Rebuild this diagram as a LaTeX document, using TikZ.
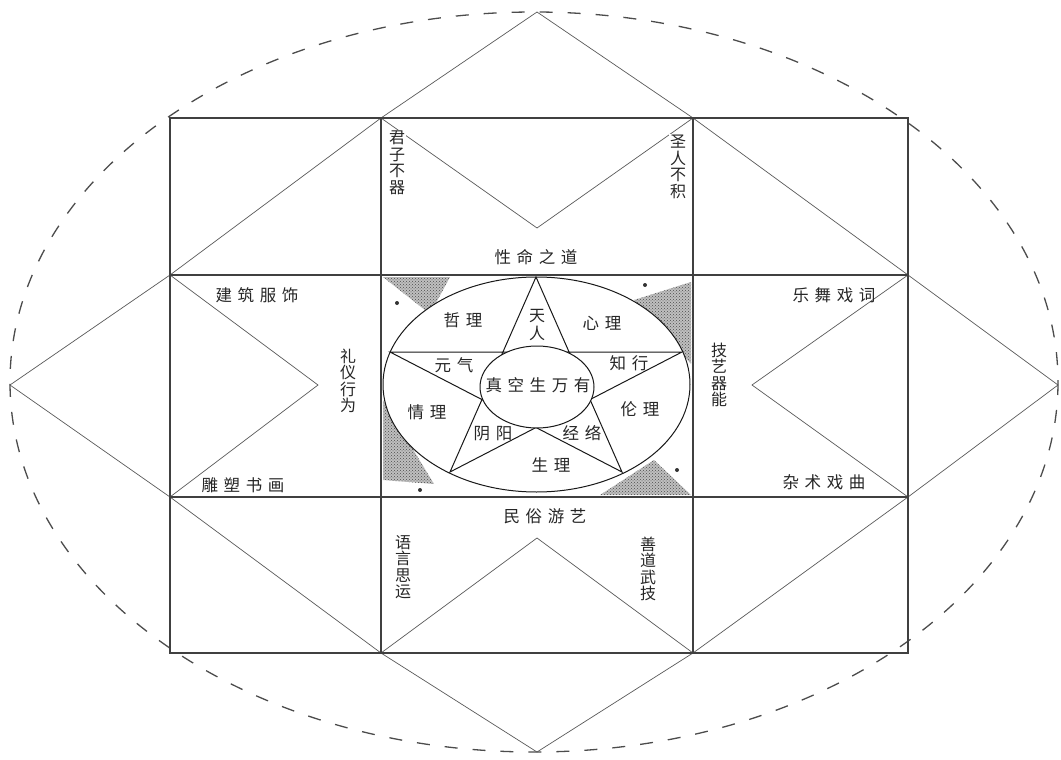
\documentclass[tikz,border=0pt]{standalone}
\usepackage{fontspec}
\newfontfamily\cjk[LetterSpace=34]{Noto Sans CJK SC}
\newfontfamily\cjkv{Noto Sans CJK SC}
\usetikzlibrary{patterns}
\begin{document}
\begin{tikzpicture}[x=1pt,y=-1pt,
  lbl/.style={font=\cjk\fontsize{16.5}{16.5}\selectfont, inner sep=0pt, text=black!85},
  vlbl/.style={font=\cjkv\fontsize{16}{16.5}\selectfont, align=center, inner sep=1pt, fill=white, text=black!85},
  grid/.style={line width=1.6pt, draw=black!75},
  thin/.style={line width=0.7pt, draw=black!65},
  dashring/.style={line width=1.3pt, draw=black!70, dash pattern=on 13pt off 15pt},
  core/.style={line width=1pt, draw=black!90}]
\useasboundingbox (0,0) rectangle (1061,760);
% outer dashed ellipse
\draw[dashring] (534,382) ellipse [x radius=524, y radius=370];
% named corner points
\coordinate (T) at (537,12);
\coordinate (L) at (10,385);
\coordinate (B) at (537,752);
\coordinate (R) at (1058,385);
\coordinate (g1) at (381,118); \coordinate (g2) at (693,118);
\coordinate (g3) at (908,275); \coordinate (g4) at (908,497);
\coordinate (g5) at (693,653); \coordinate (g6) at (381,653);
\coordinate (g7) at (170,497); \coordinate (g8) at (170,275);
% star outline
\draw[thin] (T) -- (g1) -- (g8) -- (L) -- (g7) -- (g6) -- (B) -- (g5) -- (g4) -- (R) -- (g3) -- (g2) -- cycle;
% inner V shapes
\coordinate (vt) at (537,228); \coordinate (vl) at (318,385);
\coordinate (vr) at (752,385); \coordinate (vb) at (537,538);
\draw[thin] (g1) -- (vt) -- (g2);
\draw[thin] (g8) -- (vl) -- (g7);
\draw[thin] (g3) -- (vr) -- (g4);
\draw[thin] (g6) -- (vb) -- (g5);
% grid
\draw[grid] (170,118) rectangle (908,653);
\draw[grid] (381,118) -- (381,653);
\draw[grid] (693,118) -- (693,653);
\draw[grid] (170,275) -- (908,275);
\draw[grid] (170,497) -- (908,497);
% shaded corners of centre cell
\foreach \tri in {{(383,277) -- (450,277) -- (430,314)},
                  {(691,282) -- (691,364) -- (634,300)},
                  {(383,400) -- (383,480) -- (434,484)},
                  {(600,495) -- (691,495) -- (654,460)}}{
  \fill[gray!50] \tri -- cycle;
  \fill[pattern=crosshatch dots, pattern color=black!70] \tri -- cycle;
}
% centre ellipse
\filldraw[fill=white, core] (536.5,384.5) ellipse [x radius=153.5, y radius=107.5];
% dots
\fill[black!80] (397,303) circle (2);
\fill[black!80] (645,285) circle (2);
\fill[black!80] (420,490) circle (2);
\fill[black!80] (677,470) circle (2);
% pentagram
\coordinate (pT) at (536,277); \coordinate (pL) at (390,352);
\coordinate (pR) at (682,352); \coordinate (pBL) at (450,472);
\coordinate (pBR) at (622,472);
\draw[core] (pT) -- (pBL) -- (pR) -- (pL) -- (pBR) -- cycle;
\filldraw[fill=white, core] (537,387) ellipse [x radius=57, y radius=41];
% texts of centre cell
\node[lbl] (n1) at (537,325) {\cjkv\fontsize{16}{15}\selectfont\shortstack{天\\人}};
\node[lbl] (n2) at (463,320) {哲理};
\node[lbl] (n3) at (602,323) {心理};
\node[lbl] (n4) at (454,365) {元气};
\node[lbl] (n5) at (629,363) {知行};
\node[lbl] (n6) at (538,385) {真空生万有};
\node[lbl] (n7) at (427,412) {情理};
\node[lbl] (n8) at (640,409) {伦理};
\node[lbl] (n9) at (493,434) {阴阳};
\node[lbl] (n10) at (582,433) {经络};
\node[lbl] (n11) at (551,465) {生理};
% outer cell labels
\node[lbl] (t1) at (536,257) {性命之道};
\node[lbl] (t2) at (545,516) {民俗游艺};
\node[lbl] (t3) at (257,295) {建筑服饰};
\node[lbl] (t4) at (243,485) {雕塑书画};
\node[lbl] (t5) at (834,295) {乐舞戏词};
\node[lbl] (t6) at (824,482) {杂术戏曲};
% vertical labels
\node[vlbl] (v1) at (397,163) {君\\子\\不\\器};
\node[vlbl] (v2) at (678,167) {圣\\人\\不\\积};
\node[vlbl] (v3) at (348,381) {礼\\仪\\行\\为};
\node[vlbl] (v4) at (719,375) {技\\艺\\器\\能};
\node[vlbl] (v5) at (403,567) {语\\言\\思\\运};
\node[vlbl] (v6) at (648,569) {善\\道\\武\\技};
\end{tikzpicture}
\end{document}
